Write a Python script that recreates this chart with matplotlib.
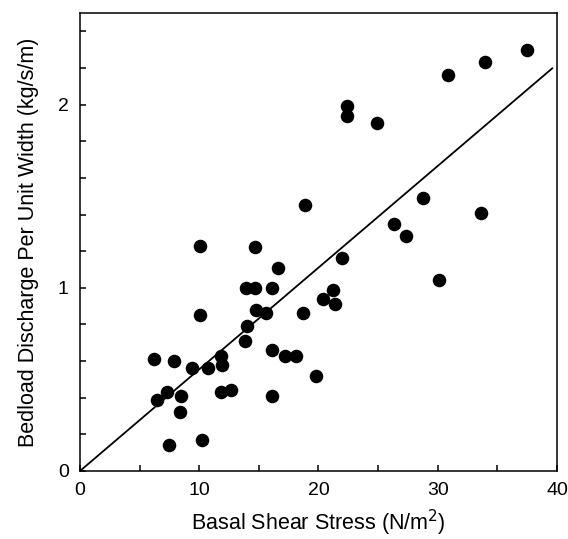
import numpy as np
import matplotlib
matplotlib.use("Agg")
import matplotlib.pyplot as plt
from matplotlib.ticker import MultipleLocator

plt.rcParams['font.family'] = ['Liberation Sans', 'DejaVu Sans']

# Basal shear stress (N/m^2) and bedload discharge (kg/s/m)
shear = [6.2, 6.5, 7.3, 7.9, 8.5, 8.4, 7.5, 10.2, 10.1, 10.1,
         9.4, 10.7, 11.8, 11.9, 11.8, 12.7, 13.8, 14.0, 13.9, 14.7,
         14.8, 15.6, 16.1, 16.6, 14.7, 16.1, 17.2, 18.1, 16.1, 18.7,
         19.8, 20.4, 21.2, 21.4, 22.0, 18.9, 22.4, 22.4, 24.9, 26.3,
         27.3, 28.8, 30.1, 33.6, 30.9, 34.0, 37.5]
discharge = [0.61, 0.39, 0.43, 0.60, 0.41, 0.32, 0.14, 0.17, 0.85, 1.23,
             0.56, 0.56, 0.63, 0.58, 0.43, 0.44, 0.71, 0.79, 1.00, 1.00,
             0.88, 0.86, 1.00, 1.11, 1.22, 0.66, 0.63, 0.63, 0.41, 0.86,
             0.52, 0.94, 0.99, 0.91, 1.16, 1.45, 1.99, 1.94, 1.90, 1.35,
             1.28, 1.49, 1.04, 1.41, 2.16, 2.23, 2.30]

# fitted line through origin
slope = 0.0555
fit_x = np.array([0, 39.6])

fig = plt.figure(figsize=(5.68, 5.39), dpi=100)
ax = fig.add_axes([0.1408, 0.1262, 0.8398, 0.8497])

ax.scatter(shear, discharge, s=95, color='black', zorder=3, linewidths=0)
ax.plot(fit_x, slope * fit_x, color='black', linewidth=1.3)

ax.set_xlim(0, 40)
ax.set_ylim(0, 2.5)
ax.xaxis.set_major_locator(MultipleLocator(10))
ax.xaxis.set_minor_locator(MultipleLocator(5))
ax.yaxis.set_major_locator(MultipleLocator(1))
ax.yaxis.set_minor_locator(MultipleLocator(0.2))
ax.tick_params(which='both', direction='in', length=4.5, width=1.1,
               labelsize=14, pad=8)
for s in ax.spines.values():
    s.set_linewidth(1.1)

ax.set_xlabel("Basal Shear Stress (N/m$^2$)", fontsize=15.5, labelpad=6)
ax.set_ylabel("Bedload Discharge Per Unit Width (kg/s/m)", fontsize=15.5, labelpad=14)

plt.savefig("out.png", dpi=100)
